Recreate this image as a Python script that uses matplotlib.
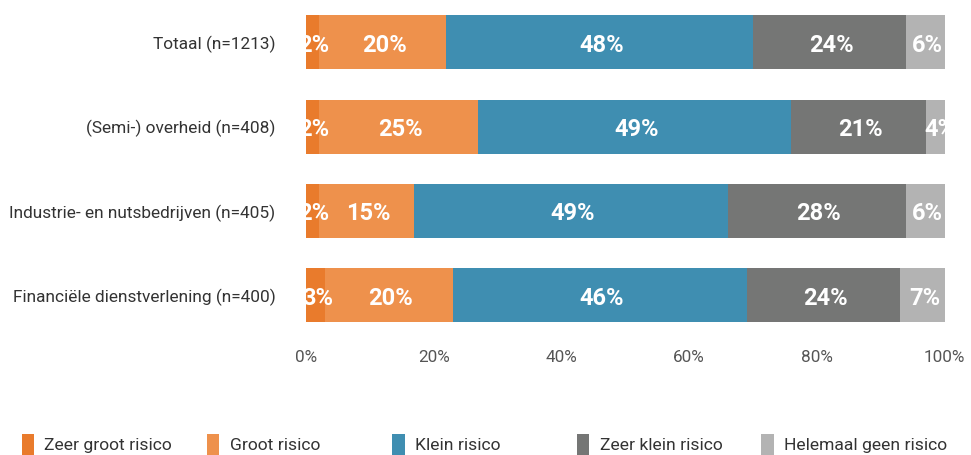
import matplotlib
matplotlib.use("Agg")
import matplotlib.pyplot as plt
from matplotlib.patches import Patch
import numpy as np

categories = ["Totaal (n=1213)", "(Semi-) overheid (n=408)",
              "Industrie- en nutsbedrijven (n=405)", "Financiële dienstverlening (n=400)"]
series_names = ["Zeer groot risico", "Groot risico", "Klein risico",
                "Zeer klein risico", "Helemaal geen risico"]
zeer_groot = [2, 2, 2, 3]
groot = [20, 25, 15, 20]
klein = [48, 49, 49, 46]
zeer_klein = [24, 21, 28, 24]
geen = [6, 4, 6, 7]
colors = ["#E97B2C", "#EE914C", "#3F8EB1", "#757675", "#B3B3B3"]
xticks = [0, 20, 40, 60, 80, 100]

series = [zeer_groot, groot, klein, zeer_klein, geen]

fig = plt.figure(figsize=(9.71, 4.55), dpi=100)
ax = fig.add_axes([0.315, 0.258, 0.658, 0.742])

y = np.arange(len(categories))
ax.set_xlim(0, 100)
ax.set_ylim(len(categories) - 0.5, -0.5)

left = np.zeros(len(categories))
for vals, col in zip(series, colors):
    vals = np.array(vals, dtype=float)
    ax.barh(y, vals, left=left, height=0.64, color=col, edgecolor="none")
    for yi, l, v in zip(y, left, vals):
        t = ax.text(l + v / 2 + 0.3, yi + 0.035, f"{int(v)}%", ha="center", va="center",
                    color="white", fontsize=17, fontweight="bold", family="Roboto",
                    zorder=5)
        t.set_clip_on(True)
    left += vals

ax.set_yticks(y)
ax.set_yticklabels(categories, fontsize=12.4, color="#333333", family="Roboto")
ax.set_xticks(xticks)
ax.set_xticklabels([f"{t}%" for t in xticks], fontsize=12.3, color="#555555", family="Roboto")
ax.tick_params(axis="both", length=0)
ax.tick_params(axis="x", pad=9)
ax.tick_params(axis="y", pad=22)
for s in ax.spines.values():
    s.set_visible(False)

xs = [0.006, 0.197, 0.388, 0.578, 0.768]
for xpos, name, col in zip(xs, series_names, colors):
    leg = fig.legend(handles=[Patch(facecolor=col, edgecolor="none")], labels=[name],
                     loc="lower left", bbox_to_anchor=(xpos, -0.035), frameon=False,
                     handlelength=0.7, handleheight=1.5, handletextpad=0.6,
                     prop={"family": "Roboto", "size": 12.6})
    for t in leg.get_texts():
        t.set_color("#333333")

fig.savefig("out.png", dpi=100)
